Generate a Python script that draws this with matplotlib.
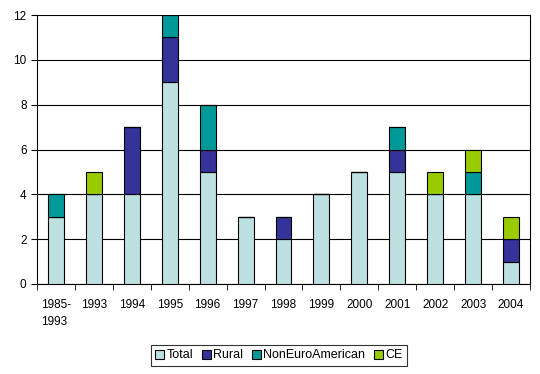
import matplotlib
matplotlib.use("Agg")
import matplotlib.pyplot as plt
import numpy as np

categories = ["1985-\n1993", "1993", "1994", "1995", "1996", "1997", "1998",
              "1999", "2000", "2001", "2002", "2003", "2004"]
total = [3, 4, 4, 9, 5, 3, 2, 4, 5, 5, 4, 4, 1]
rural = [0, 0, 3, 2, 1, 0, 1, 0, 0, 1, 0, 0, 1]
noneuro = [1, 0, 0, 1, 2, 0, 0, 0, 0, 1, 0, 1, 0]
ce = [0, 1, 0, 0, 0, 0, 0, 0, 0, 0, 1, 1, 1]

series = [("Total", total, "#BDE1E1"),
          ("Rural", rural, "#333399"),
          ("NonEuroAmerican", noneuro, "#009999"),
          ("CE", ce, "#99CC00")]

plt.rcParams['font.family'] = ['Liberation Sans', 'DejaVu Sans']
fig = plt.figure(figsize=(5.4, 3.74), dpi=100)
ax = fig.add_axes([37/540, 1-284/374, (530-37)/540, (284-15)/374])

x = np.arange(len(categories))
bottom = np.zeros(len(categories))
handles = []
for name, vals, col in series:
    v = np.array(vals, dtype=float)
    b = ax.bar(x, v, 0.42, bottom=bottom, color=col, edgecolor="black",
               linewidth=0.8, label=name, zorder=3)
    handles.append(b)
    bottom += v

ax.set_xlim(-0.5, len(categories) - 0.5)
ax.set_ylim(0, 12)
ax.set_yticks(range(0, 13, 2))
ax.yaxis.grid(True, color="black", linewidth=0.8, zorder=0)
ax.set_xticks(x)
ax.set_xticklabels(categories, fontsize=8.5, va="top")
ax.set_xticks(np.arange(-0.5, len(categories)), minor=True)
ax.tick_params(axis="x", which="major", length=0, pad=11)
ax.tick_params(axis="x", which="minor", length=4, direction="out", color="black")
ax.tick_params(axis="y", length=4, direction="out", labelsize=8.5)
for lbl in ax.get_xticklabels():
    lbl.set_multialignment("left")
    lbl.set_linespacing(1.5)
for s in ["left", "bottom", "right"]:
    ax.spines[s].set_color("black")
    ax.spines[s].set_linewidth(0.8)
ax.spines["top"].set_visible(False)

leg = fig.legend(handles=handles, labels=[s[0] for s in series], loc="center",
                 bbox_to_anchor=(279/540, 1-355.5/374), ncol=4, fontsize=9,
                 frameon=True, fancybox=False, edgecolor="black",
                 handlelength=0.7, handleheight=0.7, handletextpad=0.2,
                 columnspacing=0.7, borderpad=0.35)
leg.get_frame().set_linewidth(0.8)

fig.savefig("out.png", dpi=100)
